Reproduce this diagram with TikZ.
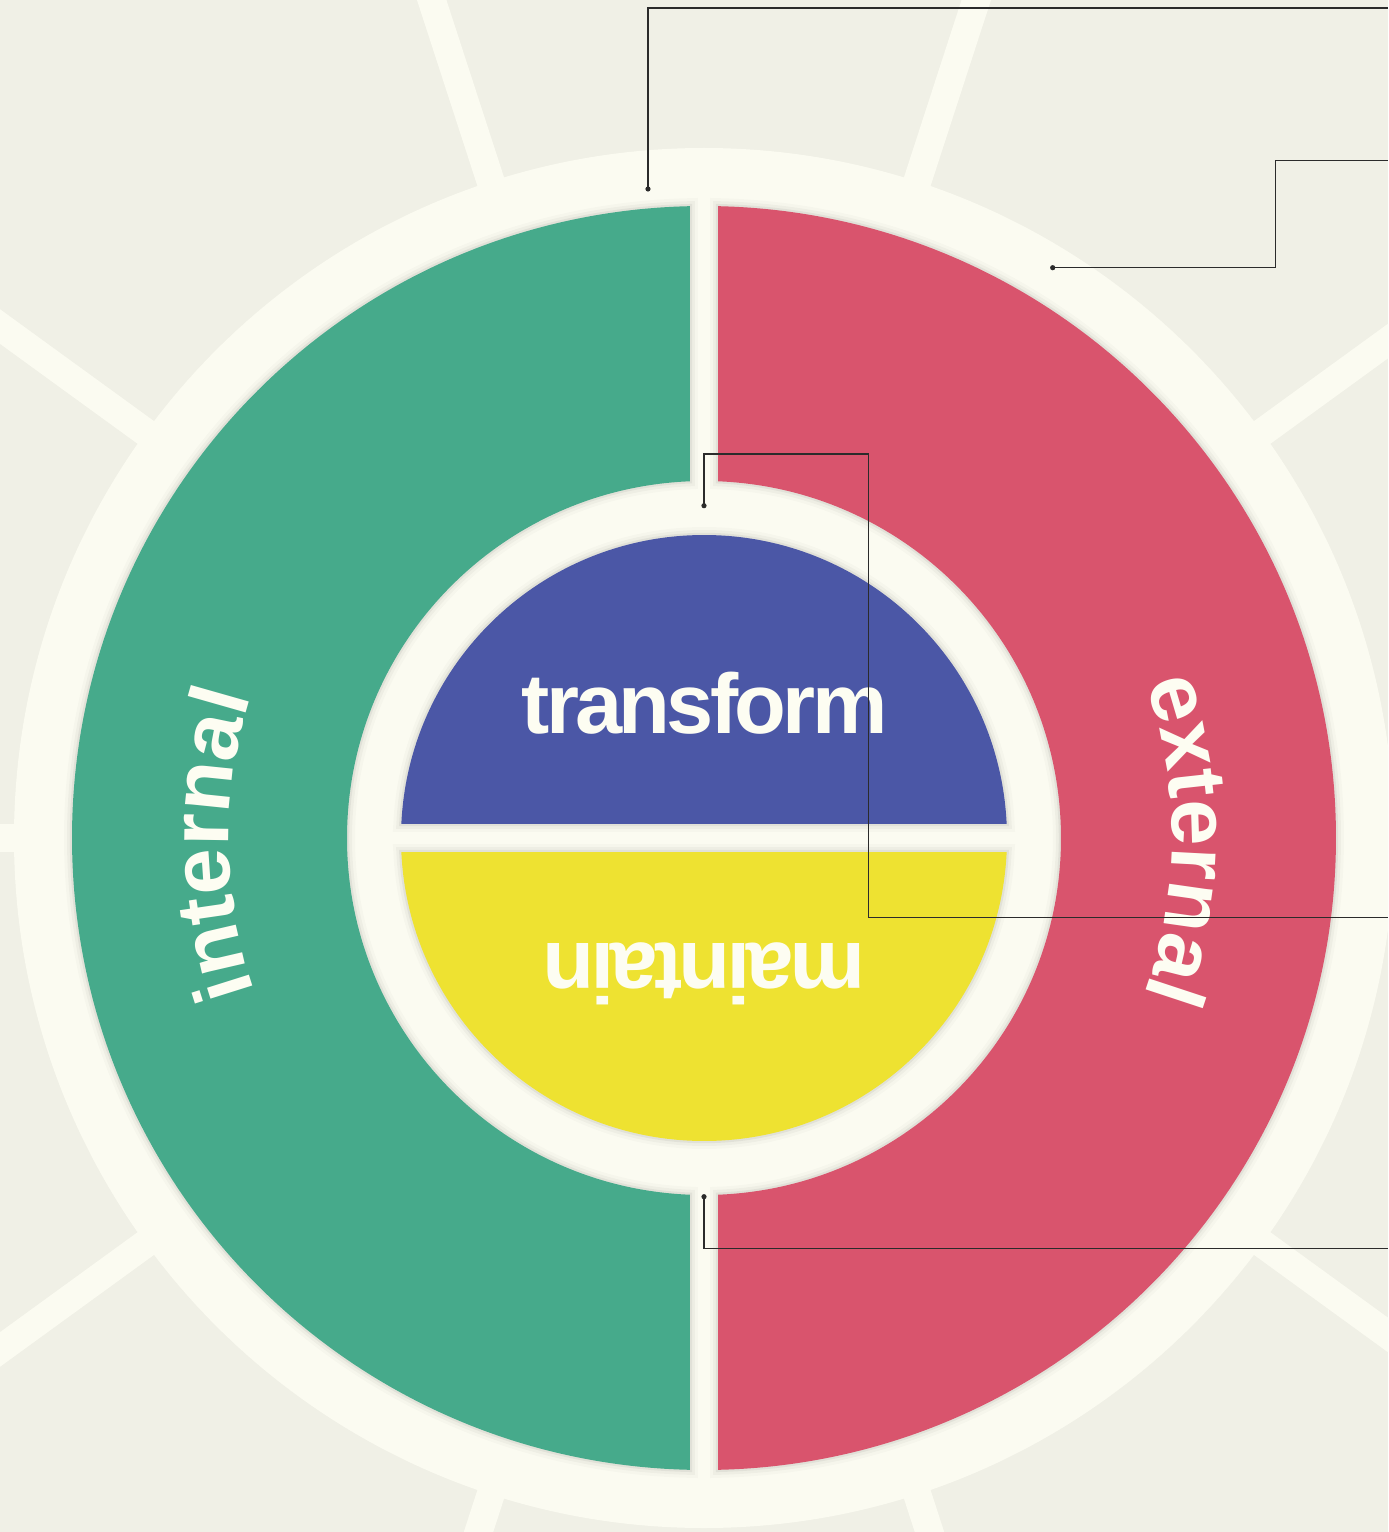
\documentclass[tikz,border=0pt]{standalone}
\usepackage{fontspec}
\usetikzlibrary{decorations.text}
\newfontfamily\ringfont{Liberation Sans}
\newfontfamily\corefont{Liberation Sans}[LetterSpace=-4.4]
\newcommand\ringstyle{\ringfont\bfseries\fontsize{41.5}{50}\selectfont}
\definecolor{bgbeige}{HTML}{F0F0E6}
\definecolor{cream}{HTML}{FBFBF1}
\definecolor{labelwhite}{HTML}{FDFDF2}
\definecolor{ringgreen}{HTML}{46AA8B}
\definecolor{ringred}{HTML}{D9546D}
\definecolor{coreblue}{HTML}{4B57A6}
\definecolor{coreyellow}{HTML}{EEE231}
\definecolor{leadergray}{HTML}{2B2B2B}
\begin{document}
\begin{tikzpicture}[x=0.5pt,y=0.5pt,
  spoke/.style={draw=cream, line width=14pt},
  softedge/.style={
    preaction={draw=black, draw opacity=0.02, line width=8pt},
    preaction={draw=black, draw opacity=0.03, line width=5pt},
    preaction={draw=black, draw opacity=0.05, line width=2.2pt}},
  leader/.style={draw=leadergray, line width=0.65pt},
  leaderdot/.style={fill=leadergray},
  corelabel/.style={text=labelwhite, inner sep=0pt,
    font=\corefont\bfseries\fontsize{42.4}{50}\selectfont}
]
% canvas
\useasboundingbox (-704,-694) rectangle (684,838);
\clip (-704,-694) rectangle (684,838);
\fill[bgbeige] (-704,-694) rectangle (684,838);

% radial spokes and the cream disc
\foreach \a in {0,36,...,324}
  \draw[spoke] (0,0) -- (\a:1500);
\fill[cream] (0,0) circle[radius=690];

% outer half rings
\fill[ringgreen, softedge]
  (91.27:632) arc[start angle=91.27, end angle=268.73, radius=632]
  -- (267.75:357) arc[start angle=267.75, end angle=92.25, radius=357] -- cycle;
\fill[ringred, softedge]
  (88.73:632) arc[start angle=88.73, end angle=-88.73, radius=632]
  -- (-87.75:357) arc[start angle=-87.75, end angle=87.75, radius=357] -- cycle;

% inner half discs
\fill[coreblue, softedge]
  (2.65:303) arc[start angle=2.65, end angle=177.35, radius=303] -- cycle;
\fill[coreyellow, softedge]
  (-2.65:303) arc[start angle=-2.65, end angle=-177.35, radius=303] -- cycle;

% ring labels set along arcs, centred on each half ring
\path[decorate, decoration={text along path, text color=labelwhite,
    text={|\ringstyle|internal}, text align=center}]
  (210.8:475) arc[start angle=210.8, end angle=150.8, radius=475];
\path[decorate, decoration={text along path, text color=labelwhite,
    text={|\ringstyle|external}, text align=center}]
  (29.8:468) arc[start angle=29.8, end angle=-30.2, radius=468];

% core labels
\node[corelabel, anchor=base] (transformlabel) at (0.5,105) {transform};
\node[corelabel, anchor=base, rotate=180] (maintainlabel) at (0,-105) {maintain};

% leader lines
\coordinate (d1) at (-56,649);
\coordinate (e1) at (684,830);
\coordinate (d2) at (348.7,570.3);
\coordinate (k2) at (571.7,570.3);
\coordinate (e2) at (684,677.3);
\coordinate (d3) at (0,332.3);
\coordinate (k3) at (164.3,384);
\coordinate (e3) at (684,-79.5);
\coordinate (d4) at (0,-358.7);
\coordinate (e4) at (684,-410.3);

\draw[leader] (d1) |- (e1);
\draw[leader] (d2) -- (k2) |- (e2);
\draw[leader] (d3) |- (k3) |- (e3);
\draw[leader] (d4) |- (e4);
\foreach \d in {d1,d2,d3,d4}
  \fill[leaderdot] (\d) circle[radius=2.6];
\end{tikzpicture}
\end{document}
